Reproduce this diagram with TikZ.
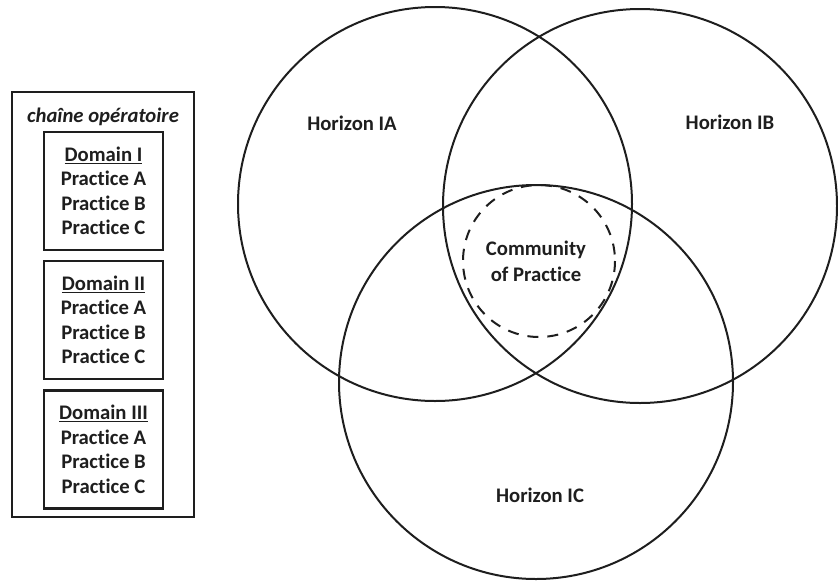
\documentclass[tikz,border=0pt]{standalone}
\usepackage{fontspec}
\setmainfont{Carlito}[Ligatures=NoCommon]
\usepackage{tikz}
\definecolor{inkgray}{RGB}{30,30,30}

\begin{document}
\begin{tikzpicture}[x=1pt,y=-1pt,
  every node/.style={font=\fontsize{20.7}{24.5}\selectfont\bfseries,text=inkgray},
  horizon/.style={draw=inkgray,line width=2pt},
  domainbox/.style={draw=inkgray,line width=2.6pt,minimum width=119pt,minimum height=118pt,align=center,inner sep=0pt}]
  \useasboundingbox (0,0) rectangle (838,582);
  % outer frame of the chain
  \draw[inkgray,line width=2.6pt](12,92) rectangle (194,517);
  \node (chaine) at (103,117) {\itshape chaîne opératoire};
  % domain boxes
  \node[domainbox] (dom1) at (103.5,191) {\underline{Domain I}\\Practice A\\Practice B\\Practice C};
  \node[domainbox] (dom2) at (103.5,320) {\underline{Domain II}\\Practice A\\Practice B\\Practice C};
  \node[domainbox] (dom3) at (103.5,449.5) {\underline{Domain III}\\Practice A\\Practice B\\Practice C};
  % three horizons
  \draw[horizon](435,204) circle(197);
  \draw[horizon](640,206) circle(197);
  \draw[horizon](536,382) circle(197);
  % community in the middle
  \draw[inkgray,line width=2pt,dash pattern=on 11pt off 9pt](539,261) circle(76);
  % labels
  \node (hIA) at (352,123) {Horizon IA};
  \node (hIB) at (730,122) {Horizon IB};
  \node (hIC) at (540,495) {Horizon IC};
  \node[align=center] (cop) at (536,261) {Community\\[1.5pt]of Practice};
\end{tikzpicture}
\end{document}
